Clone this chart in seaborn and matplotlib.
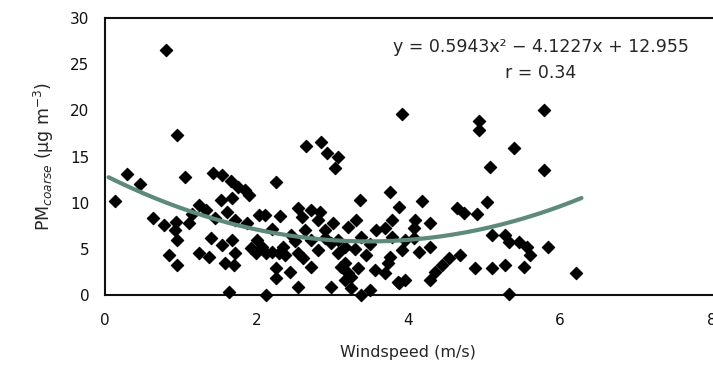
import matplotlib
matplotlib.use("Agg")
import matplotlib.pyplot as plt
import seaborn as sns
import numpy as np
import pandas as pd

# ---- data ----
windspeed = [0.81, 0.95, 2.65, 2.85, 2.93, 3.07, 3.03, 3.91, 4.93, 4.93, 5.79, 5.39,
             0.13, 0.29, 0.46, 1.05, 0.63, 0.78, 0.94, 0.92, 0.95, 0.85, 0.95, 1.11,
             1.24, 1.33, 1.42, 1.54, 1.66, 1.76, 1.85, 1.90, 1.53, 1.68, 1.61, 1.72,
             1.40, 1.24, 1.37, 1.54, 1.68, 1.72, 1.59, 1.70, 1.63, 1.87, 2.03, 2.11,
             2.31, 2.26, 2.00, 2.07, 1.99, 2.12, 2.20, 2.29, 2.25, 2.44, 2.25, 2.13,
             2.55, 2.72, 2.84, 2.81, 2.90, 2.55, 2.61, 2.72, 2.55, 2.81, 2.98, 3.07,
             3.16, 3.20, 2.98, 3.24, 3.37, 3.49, 3.36, 3.31, 3.20, 3.37, 3.44, 3.33,
             3.56, 3.76, 3.88, 3.79, 3.69, 3.57, 3.76, 3.73, 3.88, 3.92, 1.92, 2.38,
             2.35, 2.72, 2.64, 3.07, 3.16, 3.11, 3.24, 3.16, 5.07, 5.78, 4.18, 4.64,
             4.73, 4.90, 5.03, 4.09, 4.08, 4.29, 3.79, 3.95, 4.08, 4.29, 4.14, 4.54,
             4.68, 4.44, 4.35, 4.29, 3.86, 3.95, 4.88, 5.10, 5.27, 5.52, 5.10, 5.27,
             5.32, 5.46, 5.56, 5.60, 5.84, 6.21, 5.32, 3.69, 2.45, 2.50, 2.90, 3.00,
             2.60, 3.50, 3.30, 2.20, 1.45, 1.15]
pm_coarse = [26.5, 17.3, 16.1, 16.6, 15.4, 15.0, 13.8, 19.6, 18.8, 17.9, 20.0, 15.9,
             10.2, 13.1, 12.0, 12.8, 8.3, 7.6, 7.9, 7.0, 6.0, 4.3, 3.25, 7.8,
             9.75, 9.2, 13.2, 13.0, 12.3, 11.7, 11.4, 10.8, 10.3, 10.5, 9.0, 8.1,
             6.2, 4.5, 4.1, 5.4, 6.0, 4.5, 3.5, 3.25, 0.3, 7.8, 8.7, 8.7,
             8.6, 12.2, 6.0, 5.2, 4.5, 4.5, 4.7, 4.5, 2.9, 2.5, 1.8, 0.0,
             9.4, 9.2, 9.0, 8.1, 7.0, 4.5, 4.0, 3.0, 0.9, 4.9, 5.6, 4.5,
             3.5, 2.4, 0.9, 0.75, 0.0, 0.55, 10.3, 8.1, 7.4, 6.3, 4.3, 2.9,
             2.7, 11.2, 9.5, 8.1, 7.3, 7.0, 4.1, 3.5, 1.3, 4.9, 5.1, 4.3,
             5.2, 6.0, 7.0, 6.0, 5.2, 3.0, 2.0, 1.6, 13.9, 13.5, 10.2, 9.4,
             8.9, 8.8, 10.1, 8.1, 7.3, 7.8, 6.3, 6.0, 6.2, 5.2, 4.7, 4.0,
             4.3, 3.25, 2.5, 1.6, 1.4, 1.6, 2.9, 2.9, 3.25, 3.0, 6.5, 6.5,
             5.7, 5.7, 5.2, 4.3, 5.2, 2.4, 0.1, 2.4, 6.5, 5.8, 6.2, 7.8,
             8.4, 5.5, 5.0, 7.2, 8.3, 8.8]

# quadratic fit as stated on the chart
fit_coefs = [0.5943, -4.1227, 12.955]
fit_range = [0.05, 6.28]
equation_text = "y = 0.5943x² − 4.1227x + 12.955"
r_text = "r = 0.34"

x_ticks = [0, 2, 4, 6, 8]
y_ticks = [0, 5, 10, 15, 20, 25, 30]

df = pd.DataFrame({"Windspeed": windspeed, "PM": pm_coarse})
xfit = np.linspace(fit_range[0], fit_range[1], 200)
fit_df = pd.DataFrame({"x": xfit, "y": np.polyval(fit_coefs, xfit)})

sns.set_style("white")
plt.rcParams["font.family"] = ["DejaVu Sans"]

fig = plt.figure(figsize=(7.13, 3.79), dpi=100)
ax = fig.add_axes([0.147, 0.2216, 0.8516, 0.7309])

sns.scatterplot(data=df, x="Windspeed", y="PM", marker="D", color="black",
                edgecolor="black", s=40, linewidth=0.8, ax=ax, clip_on=False, zorder=3)
sns.lineplot(data=fit_df, x="x", y="y", color="#5d8a7b", lw=3, ax=ax, zorder=4)

ax.set_xlim(0, 8)
ax.set_ylim(0, 30)
ax.set_xticks(x_ticks)
ax.set_yticks(y_ticks)
ax.tick_params(direction="inout", length=15, width=1.3, labelsize=11, colors="#111111")
ax.tick_params(axis="x", length=12, pad=7)

for side in ["left", "bottom", "top"]:
    ax.spines[side].set_visible(True)
    ax.spines[side].set_linewidth(1.5)
    ax.spines[side].set_color("#111111")
ax.spines["right"].set_visible(False)

ax.set_xlabel("Windspeed (m/s)", fontsize=11.5, labelpad=12)
ax.set_ylabel("PM$_{coarse}$ (μg m$^{-3}$)", fontsize=12.5, labelpad=10)

ax.text(0.718, 0.895, equation_text, transform=ax.transAxes, ha="center",
        va="center", fontsize=12.5)
ax.text(0.718, 0.80, r_text, transform=ax.transAxes, ha="center",
        va="center", fontsize=12.5)

fig.savefig("out.png", dpi=100)
